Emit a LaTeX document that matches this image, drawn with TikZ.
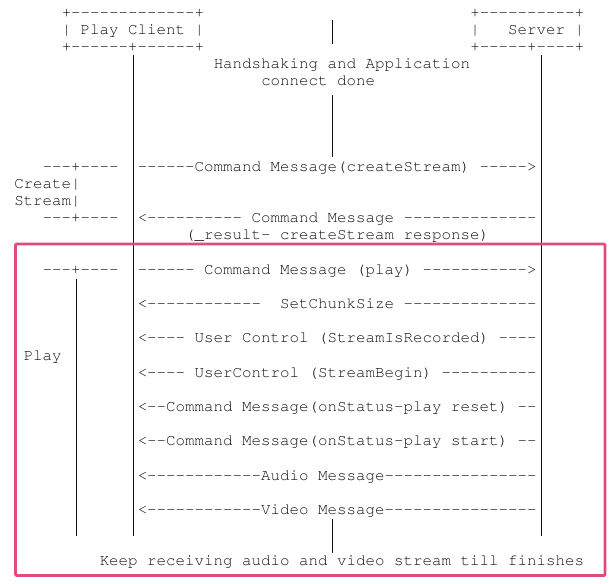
\documentclass[tikz,border=0pt]{standalone}
\usepackage[T1,TU]{fontenc}
\usepackage{xcolor}
\usepackage{pdfrender}
\definecolor{ink}{HTML}{111111}
\definecolor{pinkbox}{HTML}{E24B7D}
\newcommand\asciifont{\fontencoding{T1}\fontfamily{pcr}\fontseries{m}\fontshape{n}\fontsize{15.83}{17}\selectfont
  \pdfrender{TextRenderingMode=FillStroke,LineWidth=0.3pt}}
\newcommand\asc[4]{\node[txt] (#1) at ({4.75+9.5*#2},{17+17.15*#3}) {#4};}
% make '-' print a plain hyphen that never forms a ligature
{\catcode`\-=\active \gdef\activedash{\catcode`\-=\active \def-{\char45\kern0pt\relax}}}
\begin{document}
\begin{tikzpicture}[x=1pt,y=-1pt,
  txt/.style={anchor=base west, inner sep=0pt, outer sep=0pt, font=\asciifont, text=ink},
  life/.style={draw=ink, line width=0.9pt},
  frame/.style={draw=pinkbox, line width=2.8pt, rounded corners=1pt}]
\useasboundingbox (0,0) rectangle (614,584);
% lifelines
\coordinate (clA) at (133,55);   \coordinate (clB) at (133,535.6);
\coordinate (svA) at (541.5,55); \coordinate (svB) at (541.5,535.6);
\coordinate (mdA) at (332.5,20); \coordinate (mdB) at (332.5,44);
\coordinate (mdC) at (332.5,95); \coordinate (mdD) at (332.5,157);
\coordinate (mdE) at (332.5,519); \coordinate (mdF) at (332.5,553);
\coordinate (plA) at (76,278.5); \coordinate (plB) at (76,535.6);
\draw[life] (clA) -- (clB);
\draw[life] (svA) -- (svB);
\draw[life] (mdA) -- (mdB);
\draw[life] (mdC) -- (mdD);
\draw[life] (mdE) -- (mdF);
\draw[life] (plA) -- (plB);
\begin{scope}
\activedash
% boxes
\asc{ctop}{6}{0}{+-------------+}
\asc{stop}{49}{0}{+----------+}
\asc{cmid}{6}{1}{| Play Client |}
\asc{smid}{49}{1}{|~~~Server |}
\asc{cbot}{6}{2}{+------+------+}
\asc{sbot}{49}{2}{+-----+----+}
% texts
\asc{hs1}{22}{3}{Handshaking and Application}
\asc{hs2}{27}{4}{connect done}
\asc{csl}{4}{9}{---+----}
\asc{csm}{14}{9}{------Command Message(createStream) ----->}
\asc{cr1}{1}{10}{Create|}
\asc{cr2}{1}{11}{Stream|}
\asc{rsl}{4}{12}{---+----}
\asc{rsm}{14}{12}{<---------- Command Message --------------}
\asc{rsr}{19}{13}{(\_result- createStream response)}
\asc{pll}{4}{15}{---+----}
\asc{plm}{14}{15}{------ Command Message (play) ----------->}
\asc{scs}{14}{17}{<------------~~SetChunkSize --------------}
\asc{uc1}{14}{19}{<---- User Control (StreamIsRecorded) ----}
\asc{play}{2}{20}{Play}
\asc{uc2}{14}{21}{<---- UserControl (StreamBegin) ----------}
\asc{os1}{14}{23}{<--Command Message(onStatus-play reset) --}
\asc{os2}{14}{25}{<--Command Message(onStatus-play start) --}
\asc{aud}{14}{27}{<------------Audio Message----------------}
\asc{vid}{14}{29}{<------------Video Message----------------}
\asc{keep}{10}{32}{Keep receiving audio and video stream till finishes}
\end{scope}
% highlight frame
\draw[frame] (15.5,244) rectangle (605,575.5);
\end{tikzpicture}
\end{document}
